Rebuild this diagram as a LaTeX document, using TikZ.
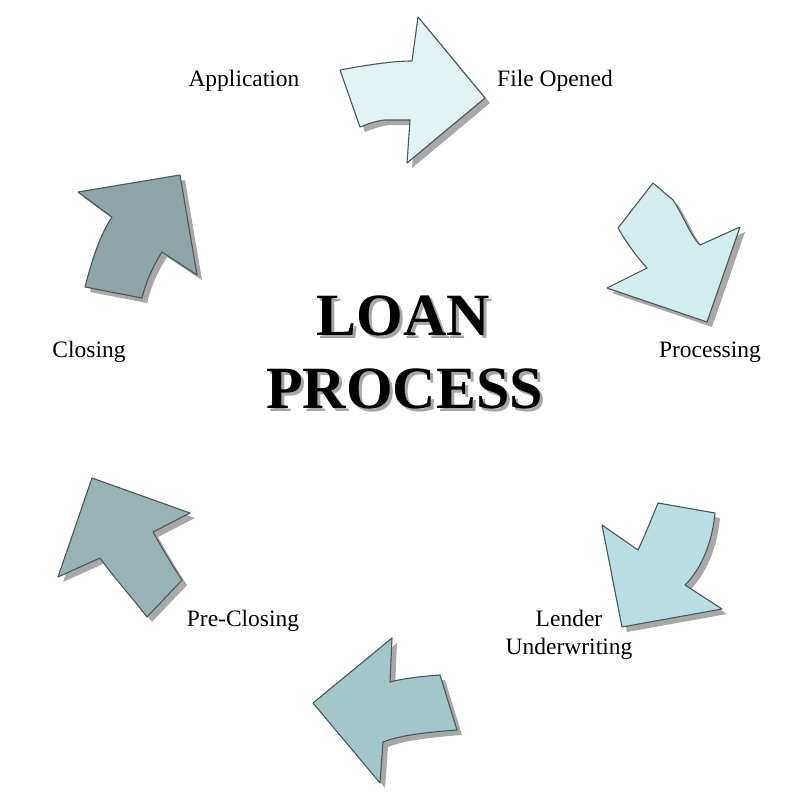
\documentclass[tikz,border=0pt]{standalone}
\usepackage{fontspec}
\setmainfont{Liberation Serif}
\definecolor{cA}{HTML}{E1F3F3}
\definecolor{cB}{HTML}{D3ECEE}
\definecolor{cC}{HTML}{B9DEE2}
\definecolor{cD}{HTML}{A3C6C9}
\definecolor{cE}{HTML}{99B3B5}
\definecolor{cF}{HTML}{8FA5A7}
\definecolor{edgec}{HTML}{4A5858}
\definecolor{shadc}{HTML}{A8A8A8}
\tikzset{
  arrA/.style={insert path={(340,70) .. controls (362,66) and (390,61) .. (412,61) -- (418,17) -- (485,98) -- (407,163) -- (410,120) -- (385,120) .. controls (375,121) and (368,124) .. (360,127) -- cycle}},
  arrB/.style={insert path={(653,183) -- (673,200) .. controls (683,215) and (690,235) .. (700,245) -- (740,227) -- (707,322) -- (607,288) -- (647,268) .. controls (635,255) and (625,240) .. (618,228) -- cycle}},
  arrC/.style={insert path={(658,503) -- (715,513) .. controls (712,545) and (700,570) .. (685,585) -- (722,609) -- (622,627) -- (602,525) -- (638,550) .. controls (645,535) and (652,518) .. (658,503) -- cycle}},
  arrD/.style={insert path={(392,638) -- (390,682) .. controls (405,678) and (425,676) .. (440,675) -- (457,730) .. controls (430,732) and (400,735) .. (383,742) -- (380,783) -- (313,703) -- cycle}},
  arrE/.style={insert path={(92,478) -- (190,513) -- (153,532) .. controls (162,548) and (172,565) .. (182,580) -- (147,617) .. controls (130,595) and (112,575) .. (100,558) -- (58,577) -- cycle}},
  arrF/.style={insert path={(180,175) -- (197,275) -- (162,252) .. controls (152,268) and (146,282) .. (142,298) -- (85,287) .. controls (92,260) and (100,235) .. (112,217) -- (78,192) -- cycle}},
  shad/.style={fill=shadc, shift={(5,5)}},
  body/.style={draw=edgec, line width=1.1pt, line join=round},
  lbl/.style={font=\fontsize{23.5}{27}\selectfont, inner sep=0pt, align=center},
  title/.style={font=\fontsize{60}{70}\selectfont\bfseries, inner sep=0pt}
}
\newcommand\shadtext[1]{\rlap{\kern3pt\raisebox{-3pt}{\textcolor{gray!70}{#1}}}#1}
\begin{document}
\begin{tikzpicture}[x=1pt,y=-1pt]
\useasboundingbox[fill=white] (0,0) rectangle (800,800);
\foreach \a/\c in {arrA/cA,arrB/cB,arrC/cC,arrD/cD,arrE/cE,arrF/cF}{
  \fill[shad,\a];
  \path[body,fill=\c,\a];
}
\node[lbl] (app) at (244,81) {Application};
\node[lbl] (file) at (555,81) {File Opened};
\node[lbl] (proc) at (710,352) {Processing};
\node[lbl] (lend) at (569,635) {Lender\\[1pt]Underwriting};
\node[lbl] (pre) at (243,621) {Pre-Closing};
\node[lbl] (clos) at (89,352) {Closing};
\node[title, anchor=base] (loan) at (403.5,335) {\shadtext{LOAN}};
\node[title, anchor=base] (process) at (404.5,408) {\shadtext{PROCESS}};
\end{tikzpicture}
\end{document}
